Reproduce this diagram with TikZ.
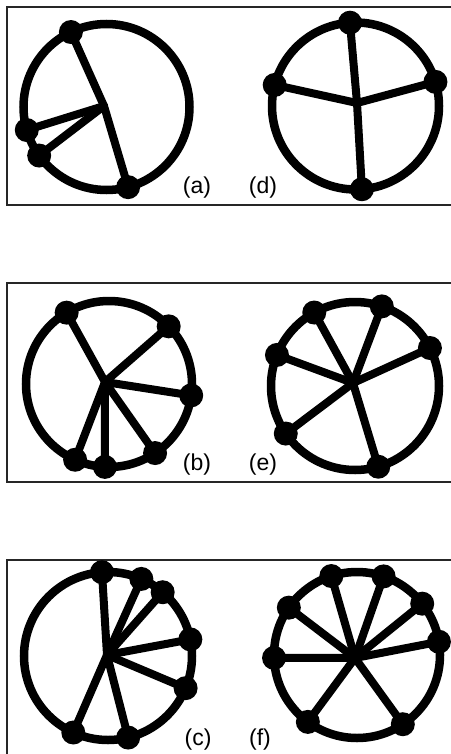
\documentclass[tikz,border=0pt]{standalone}
\usepackage{fontspec}
\setmainfont{Liberation Sans}
\begin{document}
\begin{tikzpicture}[x=1pt,y=-1pt,
  ring/.style={line width=8.5pt, black},
  spoke/.style={line width=8pt, black, line cap=round},
  dot/.style={circle, fill=black, inner sep=0pt, minimum size=24pt},
  frame/.style={line width=2pt, black!85},
  lbl/.style={font=\fontsize{23}{25}\selectfont, inner sep=0pt}]
\useasboundingbox (0,0) rectangle (450,754);
% frames
\draw[frame] (452,7) -- (7,7) -- (7,205) -- (452,205);
\draw[frame] (452,283) -- (7,283) -- (7,482) -- (452,482);
\draw[frame] (452,560) -- (7,560) -- (7,760);
% ---------- (a)
\coordinate (ca) at (106.5,107);
\coordinate (ha) at (104,106);
\draw[ring] (ca) circle[radius=83];
\foreach \n/\t in {1/244.6,2/163.9,3/144.2,4/74.9}
  \node[dot] (a\n) at ([shift={(\t:83)}]ca) {};
\foreach \n in {1,...,4} \draw[spoke] (a\n.center) -- (ha);
\node[lbl] (la) at (197,188) {(a)};
% ---------- (d)
\coordinate (cd) at (355.5,106);
\coordinate (hd) at (357,103);
\draw[ring] (cd) circle[radius=83.5];
\foreach \n/\t in {1/266.2,2/194.6,3/343.2,4/85.6}
  \node[dot] (d\n) at ([shift={(\t:83.5)}]cd) {};
\foreach \n in {1,...,4} \draw[spoke] (d\n.center) -- (hd);
\node[lbl] (ld) at (263,188) {(d)};
% ---------- (b)
\coordinate (cb) at (109,384);
\coordinate (hb) at (105,382);
\draw[ring] (cb) circle[radius=83];
\foreach \n/\t in {1/239.3,2/316,3/7.9,4/56.3,5/92.8,6/114.1}
  \node[dot] (b\n) at ([shift={(\t:83)}]cb) {};
\foreach \n in {1,...,6} \draw[spoke] (b\n.center) -- (hb);
\node[lbl] (lb) at (197,465) {(b)};
% ---------- (e)
\coordinate (ce) at (355,386);
\coordinate (he) at (353,383);
\draw[ring] (ce) circle[radius=84];
\foreach \n/\t in {1/241,2/288.6,3/333.1,4/201.7,5/145.5,6/73.9}
  \node[dot] (e\n) at ([shift={(\t:84)}]ce) {};
\foreach \n in {1,...,6} \draw[spoke] (e\n.center) -- (he);
\node[lbl] (le) at (263,465) {(e)};
% ---------- (c)
\coordinate (cc) at (108,656);
\coordinate (hc) at (107,655);
\draw[ring] (cc) circle[radius=84];
\foreach \n/\t in {1/265.9,2/293.4,3/310.6,4/348.6,5/22.5,6/76.1,7/114.4}
  \node[dot] (c\n) at ([shift={(\t:84)}]cc) {};
\foreach \n in {1,...,7} \draw[spoke] (c\n.center) -- (hc);
\node[lbl] (lc) at (198,740) {(c)};
% ---------- (f)
\coordinate (cf) at (357,655);
\coordinate (hf) at (355,658);
\draw[ring] (cf) circle[radius=83];
\foreach \n/\t in {1/252,2/288.7,3/214.8,4/321.8,5/350.8,6/178,7/126.3,8/56.5}
  \node[dot] (f\n) at ([shift={(\t:83)}]cf) {};
\foreach \n in {1,...,8} \draw[spoke] (f\n.center) -- (hf);
\node[lbl] (lf) at (260,740) {(f)};
\end{tikzpicture}
\end{document}
